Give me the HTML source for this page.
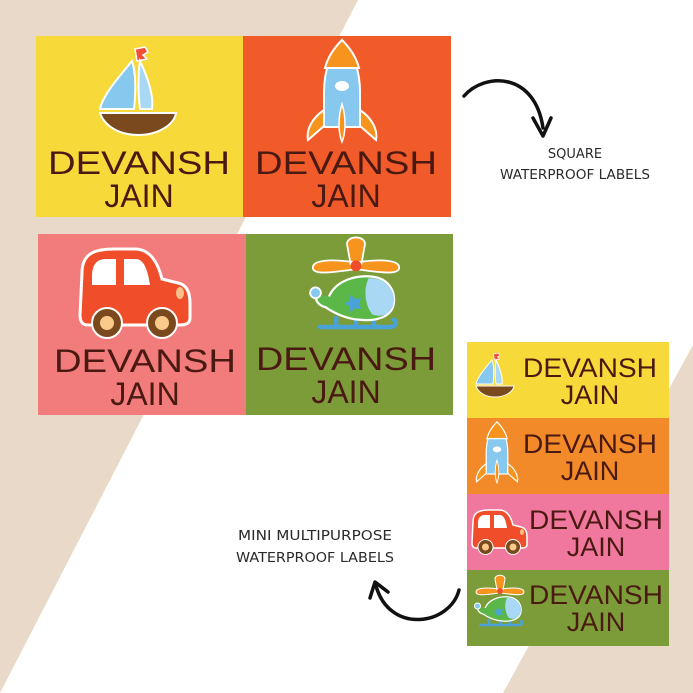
<!DOCTYPE html>
<html><head><meta charset="utf-8"><style>
html,body{margin:0;padding:0;background:#e9d9c9}
svg{display:block}
.n{font-family:"Liberation Sans",sans-serif;fill:#4a1a12;text-anchor:middle}
.c{font-family:"DejaVu Sans","Liberation Sans",sans-serif;fill:#2a2a2a;text-anchor:middle;font-size:13px}
</style></head><body>
<svg width="693" height="693" viewBox="0 0 693 693" xmlns="http://www.w3.org/2000/svg">
<defs>
<g id="boat">
 <path d="M-3,-64 l10,-2 l3,5 l-5,3 l4,4 l-10,2z" fill="#f0503a" stroke="#fff" stroke-width="1.5"/>
 <path d="M-6,-52 C-20,-35 -35,-18 -38,-4 L-4,-4 C-2,-20 -2,-40 -6,-52z" fill="#86c8ee" stroke="#fff" stroke-width="2"/>
 <path d="M2,-52 C10,-35 16,-18 14,-4 L2,-4 C0,-20 0,-40 2,-52z" fill="#a8d8f4" stroke="#fff" stroke-width="2"/>
 <path d="M-38,0 L38,0 C36,12 20,22 0,22 C-20,22 -34,12 -38,0z" fill="#7a4a1e" stroke="#fff" stroke-width="2"/>
</g>
<g id="rocket">
 <path d="M0,-72 C-12,-58 -18,-40 -18,-20 L-18,15 L18,15 L18,-20 C18,-40 12,-58 0,-72z" fill="#86c8ee" stroke="#fff" stroke-width="2"/>
 <path d="M0,-72 C-10,-62 -15,-52 -17,-44 L17,-44 C15,-52 10,-62 0,-72z" fill="#f7941d" stroke="#fff" stroke-width="2"/>
 <ellipse cx="0" cy="-26" rx="7" ry="5" fill="#fff"/>
 <path d="M-18,-2 C-30,6 -36,18 -34,28 L-18,14z M18,-2 C30,6 36,18 34,28 L18,14z" fill="#f7941d" stroke="#fff" stroke-width="2"/>
 <path d="M0,-8 C-4,5 -4,20 0,30 C4,20 4,5 0,-8z" fill="#f7941d" stroke="#fff" stroke-width="1.5"/>
</g>
<g id="car">
 <path d="M-58,-40 C-58,-60 -45,-64 -25,-64 L-5,-64 C10,-64 18,-50 22,-34 L38,-30 C48,-28 50,-18 50,-10 L50,5 C50,10 46,12 40,12 L-52,12 C-58,12 -60,8 -60,2z" fill="#f04e2a" stroke="#fff" stroke-width="3"/>
 <path d="M-48,-36 C-48,-50 -42,-54 -34,-54 L-24,-54 L-24,-28 L-48,-28z M-16,-54 L-4,-54 C4,-54 8,-42 10,-28 L-16,-28z" fill="#fff"/>
 <ellipse cx="40" cy="-20" rx="4" ry="6" fill="#f8c08a"/>
 <circle cx="-33" cy="10" r="15" fill="#7a4a1e" stroke="#fff" stroke-width="2"/><circle cx="-33" cy="10" r="7" fill="#fbc98a"/>
 <circle cx="22" cy="10" r="15" fill="#7a4a1e" stroke="#fff" stroke-width="2"/><circle cx="22" cy="10" r="7" fill="#fbc98a"/>
</g>
<g id="heli">
 <path d="M-40,30 L38,30 C44,30 46,24 42,22 M-22,20 L-22,30 M0,20 L0,30 M20,20 L20,30" stroke="#4aa3d8" stroke-width="5" fill="none" stroke-linecap="round"/>
 <path d="M-30,-4 C-22,-22 0,-28 18,-26 C36,-24 44,-10 42,4 C40,18 24,24 4,22 C-10,21 -22,16 -34,8 C-42,6 -46,0 -44,-6" fill="#5bb848" stroke="#fff" stroke-width="2.5"/>
 <circle cx="-45" cy="-8" r="6" fill="#86c8ee" stroke="#fff" stroke-width="2"/>
 <path d="M14,-24 C30,-26 44,-12 42,2 C40,16 28,20 18,16 C10,6 8,-12 14,-24z" fill="#a8d8f4"/>
 <path d="M-6,-6 l5,5 l7,-1 l-3,6 l3,6 l-7,-1 l-5,5 l-1,-7 l-6,-3 l6,-3z" fill="#4aa3d8"/>
 <path d="M-10,-62 C-10,-72 10,-72 10,-62 L6,-40 L-6,-40z M-2,-42 C-30,-46 -48,-44 -48,-36 C-48,-28 -30,-30 -2,-34z M2,-42 C30,-46 48,-44 48,-36 C48,-28 30,-30 2,-34z" fill="#f7941d" stroke="#fff" stroke-width="2"/>
 <circle cx="0" cy="-38" r="6" fill="#f04e2a"/>
</g>
</defs>
<polygon points="358,0 693,0 693,345 503,693 0,693" fill="#fff"/>
<rect x="36" y="36" width="207" height="181" fill="#f7d93a"/>
<rect x="243" y="36" width="208" height="181" fill="#f15a29"/>
<rect x="38" y="234" width="208" height="181" fill="#f27b7b"/>
<rect x="246" y="234" width="207" height="181" fill="#7c9c3a"/>
<use href="#boat" transform="translate(138,113)"/>
<use href="#rocket" transform="translate(342,112)"/>
<use href="#car" transform="translate(140,313)"/>
<use href="#heli" transform="translate(356,300) scale(0.9)"/>
<g class="n" font-size="32">
<text x="139" y="174" textLength="182" lengthAdjust="spacingAndGlyphs">DEVANSH</text>
<text x="139" y="207">JAIN</text>
<text x="346" y="174" textLength="182" lengthAdjust="spacingAndGlyphs">DEVANSH</text>
<text x="346" y="207">JAIN</text>
<text x="145" y="372" textLength="182" lengthAdjust="spacingAndGlyphs">DEVANSH</text>
<text x="145" y="405">JAIN</text>
<text x="346" y="370" textLength="180" lengthAdjust="spacingAndGlyphs">DEVANSH</text>
<text x="346" y="403">JAIN</text>
</g>
<rect x="467" y="342" width="202" height="76" fill="#f7d93a"/>
<rect x="467" y="418" width="202" height="76" fill="#f28a2a"/>
<rect x="467" y="494" width="202" height="76" fill="#f0789e"/>
<rect x="467" y="570" width="202" height="76" fill="#7c9c3a"/>
<use href="#boat" transform="translate(495,386) scale(0.5)"/>
<use href="#rocket" transform="translate(497,465) scale(0.6)"/>
<use href="#car" transform="translate(502,542) scale(0.5)"/>
<use href="#heli" transform="translate(500,610) scale(0.5)"/>
<g class="n" font-size="27">
<text x="590" y="377" textLength="134" lengthAdjust="spacingAndGlyphs">DEVANSH</text>
<text x="590" y="404">JAIN</text>
<text x="590" y="453" textLength="134" lengthAdjust="spacingAndGlyphs">DEVANSH</text>
<text x="590" y="480">JAIN</text>
<text x="596" y="529" textLength="134" lengthAdjust="spacingAndGlyphs">DEVANSH</text>
<text x="596" y="556">JAIN</text>
<text x="596" y="604" textLength="134" lengthAdjust="spacingAndGlyphs">DEVANSH</text>
<text x="596" y="631">JAIN</text>
</g>
<path d="M464,96 C485,72 535,72 543,128" fill="none" stroke="#111" stroke-width="3.5" stroke-linecap="round"/>
<path d="M533,118 L543,136 L551,118" fill="none" stroke="#111" stroke-width="3.5" stroke-linecap="round" stroke-linejoin="round"/>
<path d="M459,590 C450,625 390,635 376,586" fill="none" stroke="#111" stroke-width="3.5" stroke-linecap="round"/>
<path d="M370,598 L375,582 L388,592" fill="none" stroke="#111" stroke-width="3.5" stroke-linecap="round" stroke-linejoin="round"/>
<text class="c" x="575" y="158">SQUARE</text>
<text class="c" x="575" y="179" textLength="150" lengthAdjust="spacingAndGlyphs">WATERPROOF LABELS</text>
<text class="c" x="315" y="540" textLength="154" lengthAdjust="spacingAndGlyphs">MINI MULTIPURPOSE</text>
<text class="c" x="315" y="562" textLength="158" lengthAdjust="spacingAndGlyphs">WATERPROOF LABELS</text>
</svg>
</body></html>
